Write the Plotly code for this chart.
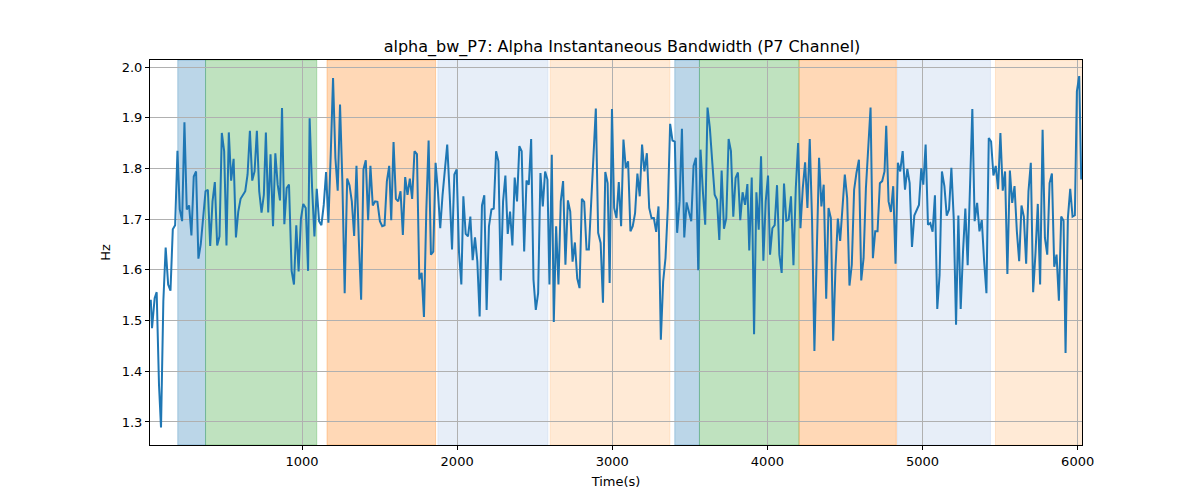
import plotly.graph_objects as go

# time axis (s) and bandwidth (Hz)
time_s = [
    25, 33, 50, 63, 78, 91, 106, 121, 137, 152, 167, 182, 197, 212, 227, 242, 257, 272, 287, 302,
    317, 332, 347, 363, 378, 393, 408, 423, 438, 453, 468, 483, 498, 513, 528, 543, 559, 574, 589, 604,
    619, 634, 649, 664, 679, 694, 709, 724, 739, 754, 767, 782, 797, 813, 828, 843, 858, 871, 886, 901,
    916, 933, 948, 963, 978, 993, 1008, 1024, 1039, 1049, 1065, 1080, 1095, 1110, 1125, 1140, 1155, 1170, 1185, 1200,
    1215, 1230, 1245, 1260, 1275, 1291, 1306, 1321, 1336, 1351, 1366, 1381, 1396, 1411, 1426, 1441, 1456, 1471, 1486, 1502,
    1517, 1532, 1547, 1562, 1575, 1590, 1605, 1620, 1635, 1650, 1665, 1680, 1695, 1710, 1725, 1741, 1756, 1771, 1786, 1801,
    1816, 1831, 1846, 1861, 1876, 1891, 1906, 1921, 1936, 1952, 1967, 1982, 1997, 2012, 2027, 2040, 2055, 2070, 2085, 2100,
    2115, 2130, 2145, 2160, 2175, 2190, 2205, 2221, 2236, 2251, 2266, 2281, 2296, 2311, 2326, 2341, 2356, 2371, 2386, 2401,
    2416, 2432, 2447, 2462, 2477, 2492, 2507, 2522, 2537, 2552, 2567, 2582, 2595, 2610, 2623, 2638, 2653, 2668, 2683, 2698,
    2714, 2729, 2744, 2759, 2774, 2789, 2804, 2819, 2834, 2849, 2864, 2879, 2894, 2909, 2925, 2940, 2955, 2970, 2983, 2998,
    3012, 3027, 3042, 3057, 3072, 3087, 3102, 3117, 3132, 3147, 3162, 3177, 3192, 3207, 3223, 3238, 3253, 3268, 3283, 3298,
    3313, 3328, 3343, 3358, 3373, 3388, 3403, 3418, 3434, 3449, 3464, 3479, 3494, 3509, 3524, 3539, 3554, 3569, 3584, 3599,
    3614, 3629, 3645, 3660, 3675, 3690, 3705, 3720, 3735, 3750, 3765, 3780, 3795, 3810, 3825, 3840, 3856, 3871, 3883, 3899,
    3914, 3929, 3944, 3959, 3974, 3989, 4004, 4017, 4032, 4047, 4062, 4077, 4092, 4107, 4122, 4137, 4152, 4168, 4183, 4198,
    4213, 4228, 4243, 4258, 4273, 4288, 4303, 4318, 4333, 4348, 4363, 4379, 4394, 4409, 4424, 4439, 4454, 4469, 4484, 4499,
    4514, 4529, 4544, 4559, 4574, 4590, 4605, 4620, 4635, 4650, 4665, 4680, 4695, 4710, 4725, 4740, 4755, 4766, 4781, 4796,
    4811, 4826, 4841, 4856, 4872, 4887, 4902, 4917, 4932, 4947, 4962, 4977, 4992, 5005, 5020, 5035, 5050, 5065, 5080, 5095,
    5110, 5125, 5141, 5156, 5171, 5186, 5201, 5216, 5231, 5246, 5261, 5276, 5291, 5306, 5321, 5336, 5352, 5367, 5382, 5397,
    5412, 5427, 5442, 5457, 5472, 5487, 5502, 5517, 5532, 5547, 5563, 5578, 5593, 5608, 5623, 5638, 5653, 5668, 5683, 5698,
    5713, 5728, 5743, 5758, 5774, 5789, 5804, 5819, 5834, 5849, 5864, 5879, 5894, 5909, 5922, 5937, 5952, 5967, 5982, 5995,
    6010, 6023,
]
alpha_bw = [
    1.541, 1.485, 1.544, 1.556, 1.373, 1.289, 1.538, 1.644, 1.571, 1.559, 1.680, 1.688, 1.835, 1.719, 1.696, 1.891, 1.719, 1.727, 1.668, 1.784,
    1.794, 1.622, 1.650, 1.702, 1.755, 1.758, 1.647, 1.735, 1.773, 1.648, 1.666, 1.870, 1.834, 1.648, 1.871, 1.776, 1.819, 1.664, 1.715, 1.740,
    1.748, 1.755, 1.788, 1.874, 1.776, 1.794, 1.874, 1.755, 1.713, 1.748, 1.871, 1.713, 1.828, 1.686, 1.830, 1.768, 1.737, 1.919, 1.690, 1.761,
    1.768, 1.598, 1.571, 1.688, 1.597, 1.701, 1.730, 1.722, 1.598, 1.899, 1.761, 1.666, 1.760, 1.696, 1.688, 1.728, 1.793, 1.693, 1.827, 1.978,
    1.821, 1.756, 1.926, 1.775, 1.554, 1.780, 1.767, 1.735, 1.667, 1.805, 1.659, 1.541, 1.798, 1.816, 1.698, 1.805, 1.727, 1.735, 1.734, 1.696,
    1.686, 1.688, 1.775, 1.805, 1.698, 1.852, 1.740, 1.735, 1.755, 1.669, 1.783, 1.748, 1.780, 1.740, 1.834, 1.828, 1.581, 1.594, 1.507, 1.715,
    1.855, 1.630, 1.636, 1.811, 1.755, 1.682, 1.748, 1.804, 1.847, 1.748, 1.640, 1.788, 1.798, 1.635, 1.571, 1.745, 1.671, 1.666, 1.705, 1.619,
    1.664, 1.617, 1.508, 1.727, 1.747, 1.521, 1.686, 1.719, 1.721, 1.834, 1.814, 1.579, 1.735, 1.786, 1.671, 1.715, 1.648, 1.782, 1.735, 1.844,
    1.834, 1.636, 1.776, 1.768, 1.858, 1.581, 1.521, 1.554, 1.791, 1.725, 1.794, 1.778, 1.571, 1.827, 1.497, 1.686, 1.571, 1.735, 1.775, 1.610,
    1.737, 1.715, 1.616, 1.654, 1.583, 1.564, 1.740, 1.734, 1.640, 1.640, 1.734, 1.827, 1.918, 1.673, 1.653, 1.535, 1.793, 1.771, 1.574, 1.917,
    1.722, 1.702, 1.773, 1.686, 1.857, 1.801, 1.814, 1.676, 1.686, 1.712, 1.790, 1.745, 1.847, 1.794, 1.830, 1.722, 1.702, 1.702, 1.675, 1.725,
    1.462, 1.577, 1.623, 1.722, 1.888, 1.855, 1.853, 1.673, 1.735, 1.878, 1.664, 1.733, 1.715, 1.696, 1.805, 1.821, 1.599, 1.837, 1.755, 1.689,
    1.920, 1.880, 1.811, 1.748, 1.738, 1.659, 1.796, 1.681, 1.702, 1.858, 1.834, 1.705, 1.781, 1.792, 1.698, 1.753, 1.728, 1.769, 1.638, 1.782,
    1.473, 1.753, 1.679, 1.824, 1.618, 1.735, 1.786, 1.630, 1.682, 1.688, 1.767, 1.630, 1.594, 1.770, 1.697, 1.699, 1.745, 1.609, 1.761, 1.850,
    1.682, 1.761, 1.812, 1.722, 1.858, 1.696, 1.440, 1.630, 1.821, 1.725, 1.768, 1.543, 1.722, 1.702, 1.460, 1.604, 1.701, 1.657, 1.722, 1.788,
    1.742, 1.569, 1.610, 1.758, 1.791, 1.817, 1.579, 1.623, 1.761, 1.853, 1.920, 1.623, 1.676, 1.676, 1.771, 1.775, 1.794, 1.884, 1.735, 1.714,
    1.765, 1.612, 1.811, 1.794, 1.834, 1.758, 1.799, 1.771, 1.645, 1.707, 1.719, 1.728, 1.800, 1.768, 1.847, 1.689, 1.692, 1.675, 1.747, 1.523,
    1.590, 1.794, 1.765, 1.707, 1.719, 1.801, 1.702, 1.492, 1.707, 1.523, 1.636, 1.721, 1.609, 1.748, 1.917, 1.696, 1.732, 1.676, 1.698, 1.617,
    1.554, 1.860, 1.853, 1.786, 1.805, 1.759, 1.870, 1.756, 1.794, 1.592, 1.796, 1.732, 1.765, 1.676, 1.617, 1.727, 1.705, 1.612, 1.755, 1.811,
    1.556, 1.632, 1.730, 1.571, 1.876, 1.663, 1.630, 1.771, 1.790, 1.606, 1.630, 1.539, 1.705, 1.697, 1.436, 1.702, 1.760, 1.705, 1.708, 1.952,
    1.982, 1.778,
]

# shaded segments
band_start = [199, 378, 1161, 1876, 2600, 3403, 3562, 4204, 4838, 5470]
band_end = [378, 1095, 1861, 2585, 3371, 3562, 4204, 4831, 5438, 6040]
band_color = [
    "rgba(31,119,180,0.3)", "rgba(44,160,44,0.3)", "rgba(255,127,14,0.3)",
    "rgba(174,199,232,0.3)", "rgba(255,187,120,0.3)",
    "rgba(31,119,180,0.3)", "rgba(44,160,44,0.3)", "rgba(255,127,14,0.3)",
    "rgba(174,199,232,0.3)", "rgba(255,187,120,0.3)",
]

fig = go.Figure()
fig.add_trace(
    go.Scatter(
        x=time_s,
        y=alpha_bw,
        mode="lines",
        line=dict(color="#1f77b4", width=2),
        showlegend=False,
    )
)

for x0, x1, c in zip(band_start, band_end, band_color):
    fig.add_vrect(x0=x0, x1=x1, fillcolor=c, line_width=1, line_color=c, layer="below")

axis_common = dict(
    showgrid=True,
    gridcolor="#b0b0b0",
    gridwidth=1,
    showline=True,
    linecolor="black",
    linewidth=1,
    mirror=True,
    ticks="outside",
    ticklen=4,
    tickcolor="black",
    zeroline=False,
    automargin=False,
    tickfont=dict(size=13, color="black"),
)

# the page body adds an 8px offset, so margins are trimmed on the top/left
fig.update_layout(
    width=1200,
    height=500,
    paper_bgcolor="white",
    plot_bgcolor="white",
    font=dict(family="DejaVu Sans", color="black"),
    margin=dict(l=142, r=126, t=52, b=63, autoexpand=False),
    title=dict(
        text="alpha_bw_P7: Alpha Instantaneous Bandwidth (P7 Channel)",
        x=0.5117,
        xanchor="center",
        y=0.912,
        yanchor="bottom",
        font=dict(size=16, color="black"),
        automargin=False,
    ),
    xaxis=dict(
        axis_common,
        range=[20, 6028],
        tickvals=[1000, 2000, 3000, 4000, 5000, 6000],
        title=dict(text="Time(s)", font=dict(size=13), standoff=9),
    ),
    yaxis=dict(
        axis_common,
        range=[1.2546, 2.0138],
        tickvals=[1.3, 1.4, 1.5, 1.6, 1.7, 1.8, 1.9, 2.0],
        tickformat=".1f",
        title=dict(text="Hz", font=dict(size=13), standoff=8),
    ),
)

fig.write_html("out.html")
